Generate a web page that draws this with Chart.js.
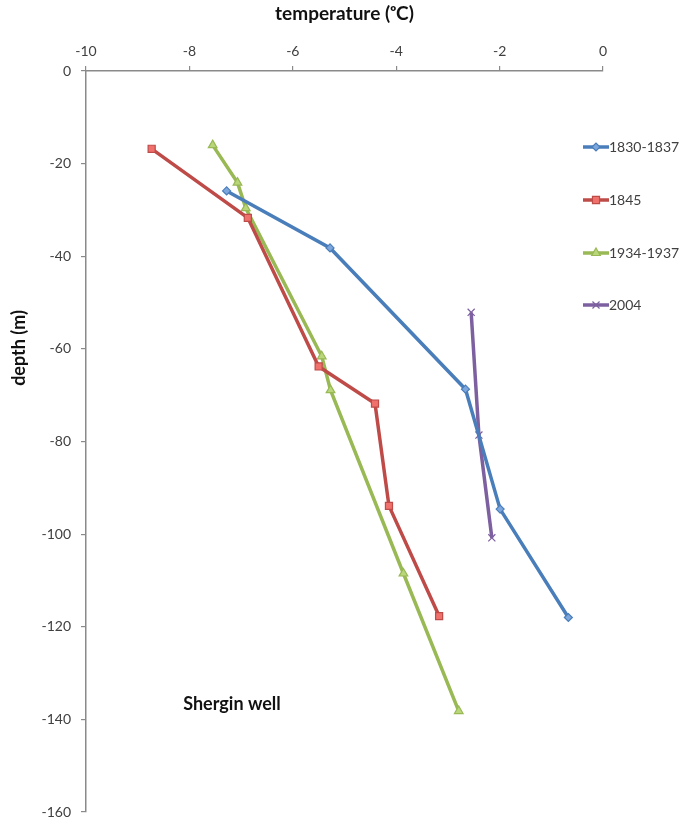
<!DOCTYPE html>
<html lang="en">
<head>
<meta charset="UTF-8">
<title>Shergin well</title>
<style>
  html, body { margin: 0; padding: 0; background: #fff; }
</style>
</head>
<body>
<canvas id="grafico" width="679" height="822"></canvas>
<script src="https://cdn.jsdelivr.net/npm/chart.js@4.4.0/dist/chart.umd.min.js"></script>
<script>
// series names
const series = ['1830-1837', '1845', '1934-1937', '2004'];

// temperature (C) and depth (m) for each profile
const temp1830 = [-7.28, -5.28, -2.66, -1.99, -0.67];
const depth1830 = [-25.9, -38.2, -68.7, -94.6, -118.0];

const temp1845 = [-8.73, -6.87, -5.50, -4.41, -4.14, -3.17];
const depth1845 = [-16.8, -31.7, -63.8, -71.8, -93.9, -117.7];

const temp1934 = [-7.55, -7.07, -6.91, -5.44, -5.27, -3.86, -2.79];
const depth1934 = [-16.0, -24.1, -29.6, -61.6, -68.9, -108.5, -138.2];

const temp2004 = [-2.55, -2.40, -2.15];
const depth2004 = [-52.1, -78.6, -100.8];

// axis ticks
const tempTicks = [-10, -8, -6, -4, -2, 0];
const depthTicks = [0, -20, -40, -60, -80, -100, -120, -140, -160];

const fonte = 'Lato, "Liberation Sans", sans-serif';
const corTexto = '#404040';
const corEixo = '#8a8a8a';

function pontos(xs, ys) {
    let lista = [];
    for (let i = 0; i < xs.length; i++) {
        lista.push({ x: xs[i], y: ys[i] });
    }
    return lista;
}

const estilos = [
    { cor: '#4a7ebb', fundo: '#7da7dc', ponto: 'rectRot', raio: 4 },
    { cor: '#be4b48', fundo: '#f0706c', ponto: 'rect', raio: 5 },
    { cor: '#98b954', fundo: '#b9d67a', ponto: 'triangle', raio: 5 },
    { cor: '#7d60a0', fundo: '#7d60a0', ponto: 'crossRot', raio: 5 }
];

const dados = [
    pontos(temp1830, depth1830),
    pontos(temp1845, depth1845),
    pontos(temp1934, depth1934),
    pontos(temp2004, depth2004)
];

const dataSets = series.map(function (nome, i) {
    return {
        label: nome,
        data: dados[i],
        showLine: true,
        borderColor: estilos[i].cor,
        borderWidth: 3.5,
        pointStyle: estilos[i].ponto,
        pointRadius: estilos[i].raio,
        pointBackgroundColor: estilos[i].fundo,
        pointBorderColor: estilos[i].cor,
        pointBorderWidth: 1.2,
        tension: 0
    };
});

// legend, y title and the "Shergin well" label
const extras = {
    id: 'extras',
    afterDraw(chart) {
        const ctx = chart.ctx;
        const area = chart.chartArea;
        ctx.save();

        // legend on the right
        const topos = [147, 200, 253, 305];
        for (let i = 0; i < series.length; i++) {
            const y = topos[i];
            const x0 = area.right - 20;
            ctx.strokeStyle = estilos[i].cor;
            ctx.lineWidth = 3.5;
            ctx.beginPath();
            ctx.moveTo(x0, y);
            ctx.lineTo(x0 + 26, y);
            ctx.stroke();
            ctx.fillStyle = estilos[i].fundo;
            ctx.strokeStyle = estilos[i].cor;
            ctx.lineWidth = 1.2;
            Chart.helpers.drawPoint(ctx, { pointStyle: estilos[i].ponto, radius: estilos[i].raio, rotation: 0, borderWidth: 1.2 }, x0 + 13, y);
            ctx.fillStyle = corTexto;
            ctx.font = '14px ' + fonte;
            ctx.textAlign = 'left';
            ctx.textBaseline = 'middle';
            ctx.fillText(series[i], x0 + 26, y);
        }

        // y axis title
        ctx.translate(19, 348);
        ctx.rotate(-Math.PI / 2);
        ctx.fillStyle = '#111';
        ctx.font = 'bold 18px ' + fonte;
        ctx.textAlign = 'center';
        ctx.textBaseline = 'middle';
        ctx.fillText('depth (m)', 0, 0);
        ctx.setTransform(1, 0, 0, 1, 0, 0);

        // well name
        const sx = chart.scales.x.getPixelForValue(-8.12);
        const sy = chart.scales.y.getPixelForValue(-136.7);
        ctx.fillStyle = '#111';
        ctx.font = 'bold 18px ' + fonte;
        ctx.textAlign = 'left';
        ctx.textBaseline = 'middle';
        ctx.fillText('Shergin well', sx, sy);
        ctx.restore();
    }
};

new Chart(document.getElementById('grafico'), {
    type: 'scatter',
    data: { datasets: dataSets },
    plugins: [extras],
    options: {
        responsive: false,
        animation: false,
        devicePixelRatio: 1,
        layout: { padding: { left: 0, top: 0, right: 76, bottom: 10 } },
        plugins: {
            legend: { display: false },
            tooltip: { enabled: false }
        },
        scales: {
            x: {
                type: 'linear',
                position: 'top',
                min: -10,
                max: 0,
                afterBuildTicks: function (scale) {
                    scale.ticks = tempTicks.map(function (v) { return { value: v }; });
                },
                afterFit: function (scale) { scale.height = 71; },
                grid: { display: true, drawOnChartArea: false, drawTicks: true, tickLength: 5, color: corEixo, lineWidth: 1.2 },
                border: { display: true, color: corEixo, width: 1.5 },
                ticks: { color: corTexto, font: { family: fonte, size: 14 }, padding: 6 },
                title: {
                    display: true,
                    text: 'temperature (ᵒC)',
                    color: '#111',
                    font: { family: fonte, size: 19, weight: 'bold' },
                    padding: { top: 2, bottom: 2 }
                }
            },
            y: {
                type: 'linear',
                min: -160,
                max: 0,
                afterBuildTicks: function (scale) {
                    scale.ticks = depthTicks.map(function (v) { return { value: v }; });
                },
                afterFit: function (scale) {
                    scale.width = 86;
                    scale.paddingTop = 0;
                    scale.paddingBottom = 0;
                },
                grid: { display: true, drawOnChartArea: false, drawTicks: true, tickLength: 5, color: corEixo, lineWidth: 1.2 },
                border: { display: true, color: corEixo, width: 1.5 },
                ticks: { color: corTexto, font: { family: fonte, size: 14 }, padding: 10 }
            }
        }
    }
});
</script>
</body>
</html>
